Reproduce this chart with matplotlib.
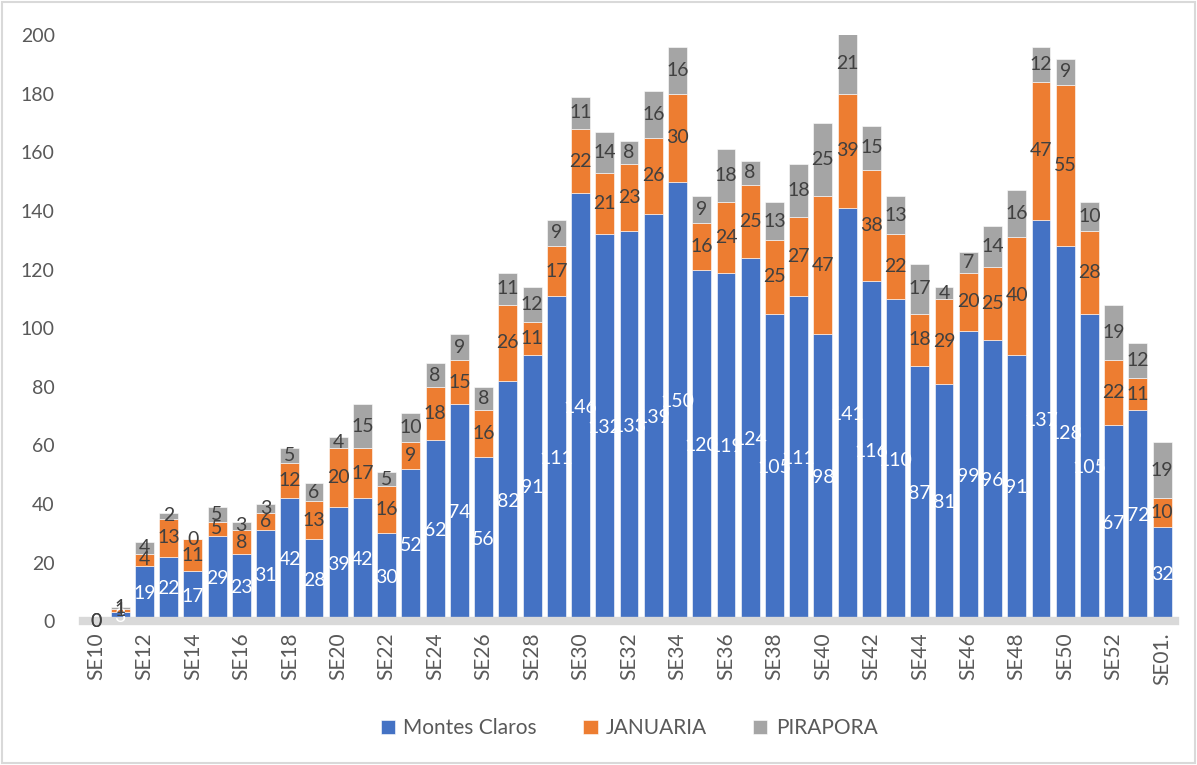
import numpy as np
import matplotlib.pyplot as plt
from matplotlib.patches import Rectangle

weeks = ['SE%d' % w for w in range(10, 54)] + ['SE01.']
montes_claros = [0, 3, 19, 22, 17, 29, 23, 31, 42, 28, 39, 42, 30, 52, 62, 74, 56, 82, 91, 111,
                 146, 132, 133, 139, 150, 120, 119, 124, 105, 111, 98, 141, 116, 110, 87, 81,
                 99, 96, 91, 137, 128, 105, 67, 72, 32]
januaria = [0, 1, 4, 13, 11, 5, 8, 6, 12, 13, 20, 17, 16, 9, 18, 15, 16, 26, 11, 17,
            22, 21, 23, 26, 30, 16, 24, 25, 25, 27, 47, 39, 38, 22, 18, 29,
            20, 25, 40, 47, 55, 28, 22, 11, 10]
pirapora = [0, 1, 4, 2, 0, 5, 3, 3, 5, 6, 4, 15, 5, 10, 8, 9, 8, 11, 12, 9,
            11, 14, 8, 16, 16, 9, 18, 8, 13, 18, 25, 21, 15, 13, 17, 4,
            7, 14, 16, 12, 9, 10, 19, 12, 19]

series = [('Montes Claros', montes_claros, '#4472C4', 'white'),
          ('JANUARIA', januaria, '#ED7D31', '#404040'),
          ('PIRAPORA', pirapora, '#A5A5A5', '#404040')]

plt.rcParams['font.family'] = ['Lato', 'DejaVu Sans']

fig = plt.figure(figsize=(11.97, 7.65), dpi=100)
ax = fig.add_axes([0.069, 0.188, 0.913, 0.766])
fig.patches.append(Rectangle((0.002, 0.002), 0.996, 0.996, transform=fig.transFigure,
                             fill=False, edgecolor='#D9D9D9', linewidth=1.5))

x = np.arange(len(weeks))
bottom = np.zeros(len(weeks))
for name, vals, col, tcol in series:
    vals = np.array(vals, dtype=float)
    ax.bar(x, vals, 0.78, bottom=bottom, color=col, label=name,
           edgecolor='white', linewidth=0.4, zorder=2)
    for xi, b, v in zip(x, bottom, vals):
        ax.text(xi, b + v / 2, '%d' % v, ha='center', va='center',
                fontsize=14, color=tcol, zorder=4, clip_on=False)
    bottom += vals

ax.set_ylim(0, 200)
ax.set_xlim(-0.55, len(weeks) - 0.45)
ax.set_yticks(range(0, 201, 20))
ax.set_xticks(x[::2])
ax.set_xticklabels(weeks[::2], rotation=90)
ax.tick_params(axis='both', length=0, labelsize=14, labelcolor='#595959')
ax.tick_params(axis='x', labelsize=15, pad=8)
ax.tick_params(axis='y', pad=20)
for s in ['top', 'right', 'left']:
    ax.spines[s].set_visible(False)
ax.spines['bottom'].set_color('#D9D9D9')
ax.spines['bottom'].set_linewidth(6)
ax.spines['bottom'].set_zorder(3)

ax.legend(loc='center', bbox_to_anchor=(0.5, -0.183), ncol=3, frameon=False,
          fontsize=15, labelcolor='#595959', handlelength=0.7, handleheight=0.7,
          columnspacing=2.2, handletextpad=0.4)

plt.savefig('out.png', dpi=100)
